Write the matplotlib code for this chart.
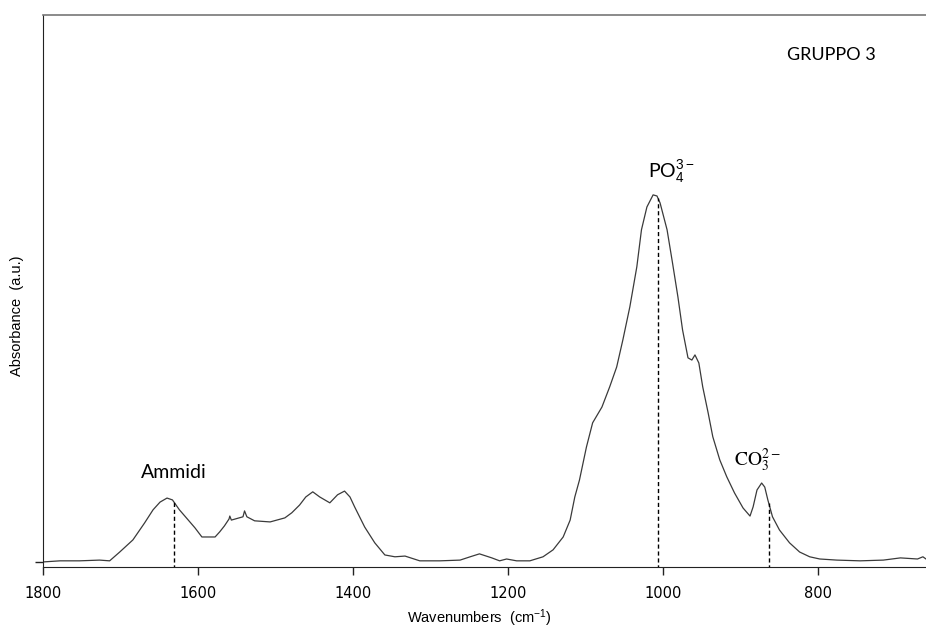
import numpy as np
import matplotlib
matplotlib.use("Agg")
import matplotlib.pyplot as plt
from matplotlib.ticker import FixedLocator

# spectrum (wavenumber in cm-1, absorbance in a.u.)
wavenumber = [
    1800, 1778, 1753, 1727, 1714, 1701, 1684, 1669, 1658, 1649, 1640, 1633,
    1624, 1615, 1604, 1595, 1578, 1572, 1566, 1560, 1559, 1557, 1542, 1540,
    1537, 1527, 1507, 1488, 1479, 1469, 1461, 1452, 1443, 1430, 1420, 1411,
    1404, 1398, 1385, 1372, 1359, 1346, 1333, 1314, 1288, 1262, 1249, 1237,
    1221, 1211, 1202, 1189, 1172, 1155, 1142, 1129, 1120, 1114, 1108, 1099,
    1091, 1079, 1069, 1060, 1052, 1043, 1034, 1028, 1021, 1013, 1008, 1004,
    995, 988, 981, 975, 968, 963, 959, 954, 949, 942, 936, 927,
    918, 908, 897, 888, 884, 879, 873, 869, 865, 859, 850, 837,
    824, 811, 798, 776, 746, 716, 694, 672, 665, 661,
]
absorbance = [
    0.000, 0.003, 0.003, 0.005, 0.003, 0.027, 0.060, 0.106, 0.142, 0.163, 0.174, 0.169,
    0.142, 0.120, 0.093, 0.068, 0.068, 0.082, 0.098, 0.117, 0.125, 0.114, 0.123, 0.139,
    0.123, 0.112, 0.109, 0.120, 0.134, 0.155, 0.177, 0.191, 0.177, 0.161, 0.183, 0.193,
    0.177, 0.150, 0.095, 0.052, 0.019, 0.014, 0.016, 0.003, 0.003, 0.005, 0.014, 0.022,
    0.011, 0.003, 0.008, 0.003, 0.003, 0.014, 0.033, 0.068, 0.114, 0.177, 0.223, 0.313,
    0.379, 0.422, 0.477, 0.531, 0.605, 0.695, 0.804, 0.905, 0.967, 1.000, 0.997, 0.978,
    0.905, 0.815, 0.722, 0.632, 0.556, 0.550, 0.564, 0.542, 0.477, 0.406, 0.341, 0.278,
    0.232, 0.188, 0.147, 0.125, 0.150, 0.196, 0.215, 0.204, 0.169, 0.123, 0.087, 0.052,
    0.027, 0.014, 0.008, 0.005, 0.003, 0.005, 0.011, 0.008, 0.014, 0.008,
]

# marked bands: position and label
band_pos = [1631, 1007, 864]
band_labels = ["Ammidi", r"PO$_4^{3-}$", r"$\mathrm{CO}_3^{2-}$"]
xticks = [1800, 1600, 1400, 1200, 1000, 800]

plt.rcParams["mathtext.fontset"] = "custom"
plt.rcParams["mathtext.rm"] = "Liberation Sans"
plt.rcParams["mathtext.it"] = "Liberation Sans:italic"

fig = plt.figure(figsize=(9.26, 6.28), dpi=100)
ax = fig.add_axes([0.0464, 0.0976, 0.9536, 0.8785])

ax.plot(wavenumber, absorbance, color="#3a3a3a", linewidth=0.9)

# dashed markers from the curve down to the axis
for pos in band_pos:
    top = np.interp(pos, wavenumber[::-1], absorbance[::-1])
    ax.plot([pos, pos], [-0.02, top], color="black", linewidth=1.0,
            linestyle=(0, (3, 2)))

ax.set_xlim(1800, 661)
ax.set_ylim(-0.013, 1.49)

ax.xaxis.set_major_locator(FixedLocator(xticks))
ax.yaxis.set_major_locator(FixedLocator([0]))
ax.set_yticklabels([""])
ax.tick_params(axis="both", direction="out", length=6, width=1.0, color="#222222")
ax.tick_params(axis="x", pad=8, labelsize=10.5)

for side in ("left", "bottom"):
    ax.spines[side].set_color("#222222")
ax.spines["top"].set_color("#777777")
ax.spines["top"].set_linewidth(1.2)
ax.spines["right"].set_visible(False)

ax.set_xlabel(r"Wavenumbers  (cm$^{-1}$)", fontsize=10.5, family="Liberation Sans")
ax.xaxis.set_label_coords(0.4945, -0.093)
ax.xaxis.label.set_verticalalignment("center")
ax.set_ylabel("Absorbance  (a.u.)", fontsize=10.5, family="Liberation Sans")
ax.yaxis.set_label_coords(-0.0294, 0.454)
ax.yaxis.label.set_verticalalignment("center")

ax.text(1631, 0.243, band_labels[0], fontsize=14, family="Lato",
        ha="center", va="center")
ax.text(989, 1.063, band_labels[1], fontsize=14, family="Lato",
        ha="center", va="center")
ax.text(878, 0.278, band_labels[2], fontsize=14, math_fontfamily="stix",
        ha="center", va="center")
ax.text(783, 1.381, "GRUPPO 3", fontsize=13, family="Lato",
        ha="center", va="center")

plt.savefig("out.png", dpi=100)
